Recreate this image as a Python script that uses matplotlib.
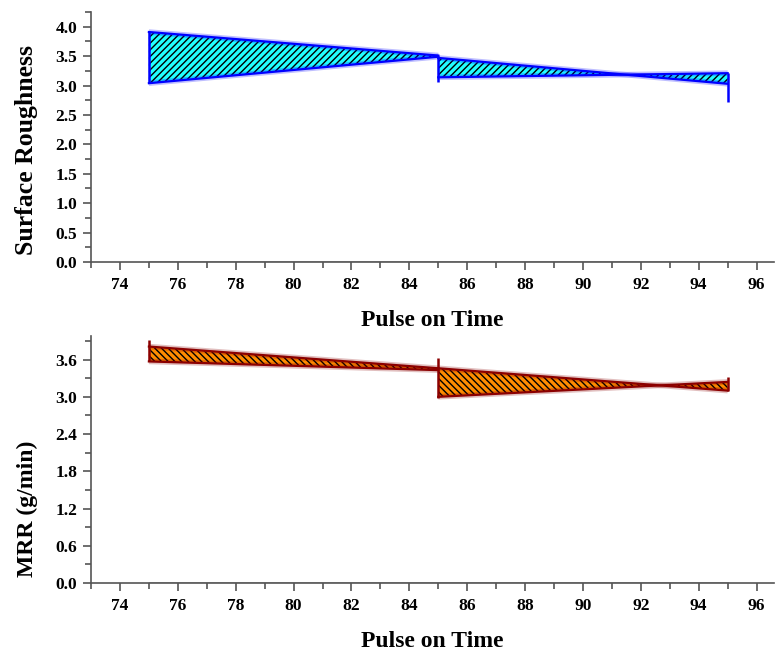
import matplotlib
matplotlib.use("Agg")
import matplotlib.pyplot as plt
from matplotlib.ticker import MultipleLocator, FormatStrFormatter

plt.rcParams["font.family"] = ["Liberation Serif", "DejaVu Serif"]
plt.rcParams["font.weight"] = "bold"
plt.rcParams["hatch.linewidth"] = 1.0

# Pulse on time levels
pulse = [75, 85, 95]

# Surface roughness bands: (start, end) of upper/lower edge for each interval
sr_upper = [(3.91, 3.51), (3.47, 3.03)]
sr_lower = [(3.04, 3.49), (3.14, 3.21)]
sr_drop_lo = [3.04, 3.06, 2.72]
sr_drop_hi = [3.91, 3.51, 3.21]

# Material removal rate bands
mrr_upper = [(3.81, 3.46), (3.46, 3.10)]
mrr_lower = [(3.57, 3.43), (3.00, 3.24)]
mrr_drop_lo = [3.57, 2.98, 3.10]
mrr_drop_hi = [3.92, 3.62, 3.32]

fig = plt.figure(figsize=(7.76, 6.57), dpi=100)
ax1 = fig.add_axes([0.1173, 0.6012, 0.8801, 0.3805])
ax2 = fig.add_axes([0.1173, 0.1126, 0.8801, 0.3760])


def draw_bands(ax, upper, lower, lo, hi, face, edge, hatch):
    for i, (u, l) in enumerate(zip(upper, lower)):
        xs = [pulse[i], pulse[i + 1]]
        ax.fill_between(xs, u, l, facecolor=face, edgecolor="black",
                        hatch=hatch, linewidth=0, zorder=2)
        for y in (u, l):
            ax.plot(xs, y, color=edge, lw=4, alpha=0.25, zorder=3,
                    solid_capstyle="butt")
            ax.plot(xs, y, color=edge, lw=1.6, zorder=4)
    ax.vlines(pulse, lo, hi, color=edge, lw=1.8, zorder=4)
    # baseline at zero
    ax.plot([pulse[0], pulse[-1]], [0, 0], color="#333333", lw=1.0, zorder=3)


draw_bands(ax1, sr_upper, sr_lower, sr_drop_lo, sr_drop_hi,
           "#22FFFF", "#0000FF", "/////")
draw_bands(ax2, mrr_upper, mrr_lower, mrr_drop_lo, mrr_drop_hi,
           "#FF8C00", "#8B0000", "\\\\\\\\\\")

for ax in (ax1, ax2):
    ax.set_xlim(73, 96.6)
    ax.spines["top"].set_visible(False)
    ax.spines["right"].set_visible(False)
    for s in ("left", "bottom"):
        ax.spines[s].set_color("#555555")
        ax.spines[s].set_linewidth(1.2)
    ax.xaxis.set_major_locator(MultipleLocator(2))
    ax.xaxis.set_minor_locator(MultipleLocator(1))
    ax.tick_params(which="major", direction="out", length=6, width=1.2,
                   color="#555555", labelsize=12.5, pad=5)
    ax.tick_params(axis="y", which="major", pad=4)
    ax.tick_params(which="minor", direction="out", length=4, width=1.2,
                   color="#555555")
    ax.set_xlabel("Pulse on Time", fontsize=17, fontweight="bold", labelpad=12)

ax1.set_ylim(0, 4.25)
ax1.yaxis.set_major_locator(MultipleLocator(0.5))
ax1.yaxis.set_minor_locator(MultipleLocator(0.25))
ax1.yaxis.set_major_formatter(FormatStrFormatter("%.1f"))
ax1.set_ylabel("Surface Roughness", fontsize=18.5, fontweight="bold")
ax1.yaxis.set_label_coords(-0.077, 0.45)

ax2.set_ylim(0, 3.98)
ax2.yaxis.set_major_locator(MultipleLocator(0.6))
ax2.yaxis.set_minor_locator(MultipleLocator(0.3))
ax2.yaxis.set_major_formatter(FormatStrFormatter("%.1f"))
ax2.set_ylabel("MRR (g/min)", fontsize=17, fontweight="bold")
ax2.yaxis.set_label_coords(-0.077, 0.30)

fig.savefig("out.png", dpi=100)
